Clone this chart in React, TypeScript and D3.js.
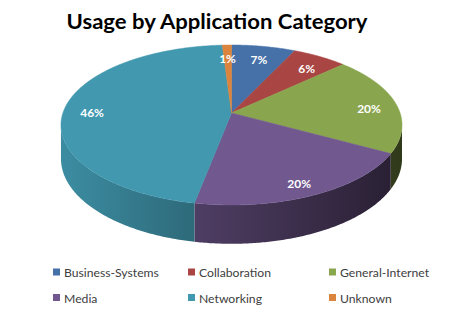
import React from 'react';
import * as d3 from 'd3';

const title = 'Usage by Application Category';
const categories = ['Business-Systems', 'Collaboration', 'General-Internet', 'Media', 'Networking', 'Unknown'];
const values = [7, 6, 20, 20, 46, 1];
const colors = ['#4571A8', '#A94643', '#89A54E', '#71588F', '#4198AF', '#DB843D'];

const W = 468;
const H = 318;
// perspective pie geometry
const CX = 231.5;
const CY = 113;
const A = 168.6;
const B = 78.2;
const K = 0.15;
const DEPTH = 33;
const LABEL_R = 0.835;

function proj(theta: number, rho: number, depth: number): [number, number] {
  const u = rho * Math.sin(theta);
  const v = rho * Math.cos(theta);
  const w = 1 + K * v;
  return [CX + (A * u) / w, CY - (B * v) / w + depth / w];
}

function arcPoints(a0: number, a1: number, depth: number): [number, number][] {
  const n = Math.max(2, Math.ceil(Math.abs(a1 - a0) / 0.01));
  const pts: [number, number][] = [];
  for (let i = 0; i <= n; i++) {
    const t = a0 + ((a1 - a0) * i) / n;
    pts.push(proj(t, 1, depth));
  }
  return pts;
}

export default function App() {
  const pie = d3.pie<number>().sort(null).startAngle(0).endAngle(2 * Math.PI);
  const arcs = pie(values);
  const line = d3.line();
  const thR = Math.acos(-K);
  const thL = 2 * Math.PI - thR;

  const walls = arcs.map((a, i) => {
    const s = Math.max(a.startAngle, thR);
    const e = Math.min(a.endAngle, thL);
    if (e <= s) return null;
    const top = arcPoints(s, e, 0);
    const bot = arcPoints(e, s, DEPTH);
    return <path key={'w' + i} d={line([...top, ...bot])! + 'Z'} fill={`url(#grad${i})`} />;
  });

  const tops = arcs.map((a, i) => {
    const pts = [proj(0, 0, 0), ...arcPoints(a.startAngle, a.endAngle, 0)];
    return <path key={'t' + i} d={line(pts)! + 'Z'} fill={colors[i]} stroke={colors[i]} strokeWidth={0.5} />;
  });

  const total = d3.sum(values);
  const labels = arcs.map((a, i) => {
    const mid = (a.startAngle + a.endAngle) / 2;
    const [x, y] = proj(mid, LABEL_R, 0);
    return (
      <text key={'l' + i} x={x} y={y + 3.5} textAnchor="middle" dominantBaseline="central"
        fontFamily="Lato, 'Open Sans', sans-serif" fontWeight="bold" fontSize={12} fill="#fff">
        {d3.format('.0%')(values[i] / total)}
      </text>
    );
  });

  const legendCols = [53, 188, 329];
  const legendRows = [268.5, 294];

  return (
    <svg width={W} height={H} style={{ position: 'absolute', left: 0, top: 0, background: '#fff' }}>
      <defs>
        {colors.map((c, i) => (
          <linearGradient key={i} id={`grad${i}`} gradientUnits="userSpaceOnUse" x1={CX - A} x2={CX + A} y1={0} y2={0}>
            <stop offset="0" stopColor={d3.interpolateRgb(c, '#000')(0.08)} />
            <stop offset="1" stopColor={d3.interpolateRgb(c, '#000')(0.65)} />
          </linearGradient>
        ))}
      </defs>
      <text x={217} y={28.5} textAnchor="middle" fontFamily="Lato, 'Open Sans', sans-serif" fontWeight="bold"
        fontSize={21.5} fill="#000" textLength={301} lengthAdjust="spacingAndGlyphs">{title}</text>
      {walls}
      {tops}
      {labels}
      {categories.map((c, i) => {
        const x = legendCols[i % 3];
        const y = legendRows[Math.floor(i / 3)];
        return (
          <g key={'lg' + i}>
            <rect x={x} y={y} width={7} height={7} fill={colors[i]} />
            <text x={x + 11} y={y + 8.5} fontFamily="Lato, 'Open Sans', sans-serif" fontSize={12.2} fill="#404040">{c}</text>
          </g>
        );
      })}
    </svg>
  );
}
